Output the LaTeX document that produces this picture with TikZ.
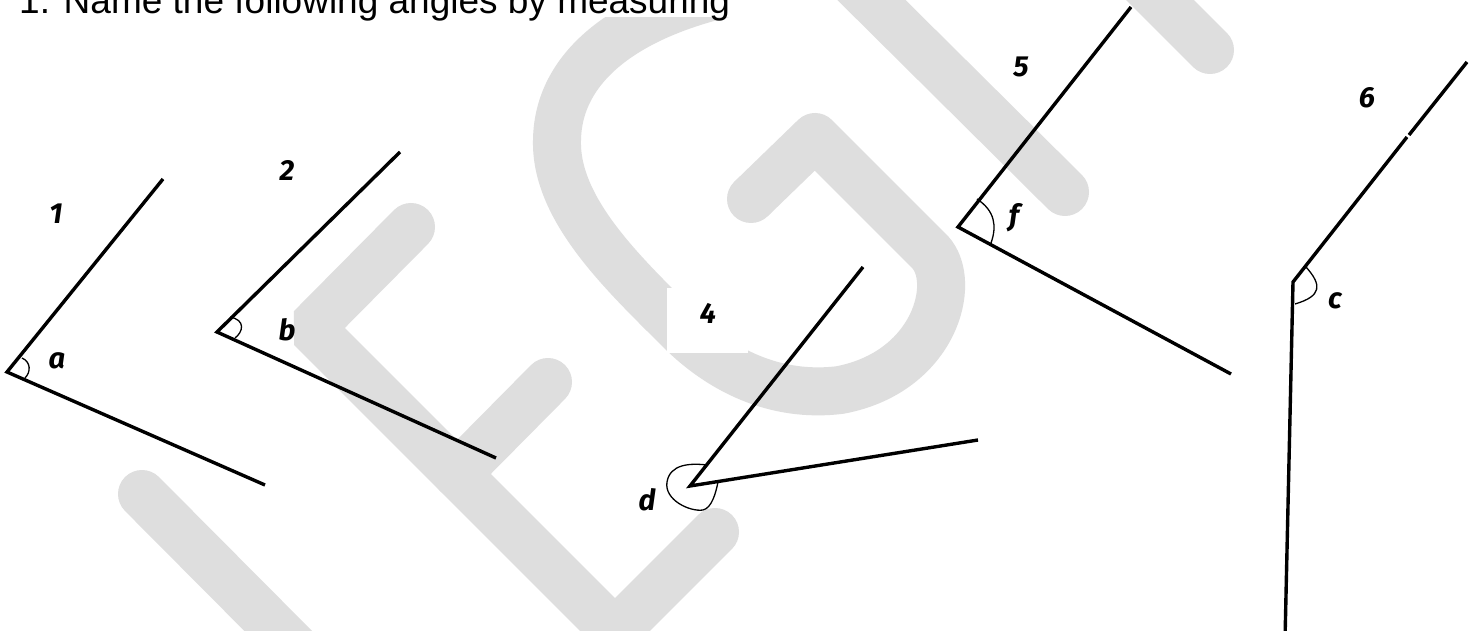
\documentclass[tikz,border=0pt]{standalone}
\usepackage{fontspec}
\setmainfont{Liberation Sans}
\newfontfamily\lblfont{Fira Sans}
\definecolor{wmgray}{RGB}{222,222,222}
\tikzset{
  wm/.style={draw=wmgray, line width=48pt, line cap=round},
  ray/.style={draw=black, line width=3.4pt, line join=miter},
  anglemark/.style={draw=black, line width=1.3pt},
  lbl/.style={inner sep=0pt, font=\lblfont\bfseries\itshape\fontsize{29}{34}\selectfont},
  title/.style={inner sep=0pt, anchor=base west, font=\fontsize{37}{44}\selectfont}
}
\begin{document}
\begin{tikzpicture}[x=1pt,y=-1pt]
\useasboundingbox (0,0) rectangle (1473,631);
\fill[white] (0,0) rectangle (1473,631);
% watermark
\begin{scope}
\clip (0,0) rectangle (1473,631);
\draw[wm, line join=bevel] (411,227) -- (311,328) -- (720,737);
\draw[wm] (457,474) -- (548,382);
\draw[wm] (615,632) -- (715,532);
\draw[wm] (142,494) -- (320,673);
\draw[wm, line join=round, line cap=butt] (751,199) -- (815,137) -- (930,252)
  .. controls (958,282) and (935,372) .. (840,390)
  .. controls (775,398) and (720,370) .. (680,330)
  .. controls (625,275) and (555,210) .. (557,140)
  .. controls (558,70) and (620,15) .. (740,-10);
\fill[wmgray] (751,199) circle (24pt);
\draw[wm] (700,-170) -- (1065,192);
\draw[wm] (1000,-160) -- (1210,50);
\end{scope}
\fill[white] (0,0) rectangle (760,17);
\fill[white] (667,288) rectangle (748,353);
% title
\node[title] (title) at (19,14) {1. Name the following angles by measuring};
% angle 1
\coordinate (v1) at (7,372);
\coordinate (p1) at (163,179);
\coordinate (q1) at (265,485);
\draw[ray] (p1) -- (v1) -- (q1);
\draw[anglemark] (22,358) .. controls (31,362) and (31,372) .. (25,378);
\node[lbl] (n1) at (56,214) {1};
\node[lbl] (la) at (57,361) {a};
% angle 2
\coordinate (v2) at (217,332);
\coordinate (p2) at (400,152);
\coordinate (q2) at (496,458);
\draw[ray] (p2) -- (v2) -- (q2);
\draw[anglemark] (230,317) .. controls (246,320) and (243,332) .. (235,338);
\node[lbl] (n2) at (287,170) {2};
\node[lbl] (lb) at (287,330) {b};
% angle 4
\coordinate (v4) at (690,486);
\coordinate (p4) at (863,267);
\coordinate (q4) at (978,440);
\draw[ray] (p4) -- (v4) -- (q4);
\draw[anglemark] (707,465) .. controls (690,463) and (670,464) .. (667,482)
  .. controls (664,500) and (690,512) .. (703,510)
  .. controls (712,508) and (716,492) .. (718,482);
\node[lbl] (n4) at (708,313) {4};
\node[lbl] (ld) at (647,500) {d};
% angle 5
\coordinate (v5) at (958,227);
\coordinate (p5) at (1131,7);
\coordinate (q5) at (1231,374);
\draw[ray] (p5) -- (v5) -- (q5);
\draw[anglemark] (977,199) .. controls (995,211) and (997,226) .. (991,243);
\node[lbl] (n5) at (1021,67) {5};
\node[lbl] (lf) at (1014,218) {f};
% angle 6
\coordinate (v6) at (1293,282);
\coordinate (p6) at (1467,62);
\coordinate (k6a) at (1409,135);
\coordinate (k6b) at (1407,137);
\coordinate (q6) at (1285,640);
\draw[ray] (p6) -- (k6a);
\draw[ray] (k6b) -- (v6) -- (q6);
\draw[anglemark] (1306,267) .. controls (1322,285) and (1322,296) .. (1295,304);
\node[lbl] (n6) at (1367,98) {6};
\node[lbl] (lc) at (1335,301) {c};
\end{tikzpicture}
\end{document}
